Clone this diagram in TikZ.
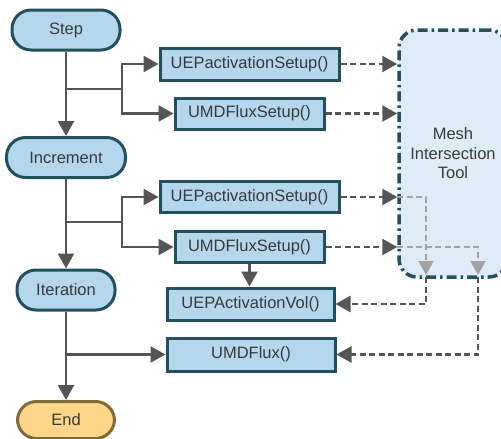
\documentclass[tikz,border=0pt]{standalone}
\usepackage{fontspec}
\setmainfont{Liberation Sans}
\usetikzlibrary{arrows.meta,calc}
\definecolor{boxfill}{HTML}{B4D7EE}
\definecolor{boxdraw}{HTML}{22505E}
\definecolor{meshfill}{HTML}{DFECF7}
\definecolor{endfill}{HTML}{FDD68A}
\definecolor{enddraw}{HTML}{7F6B37}
\definecolor{lineclr}{HTML}{555555}
\definecolor{lightclr}{HTML}{A3A3A3}
\definecolor{txt}{HTML}{3A3A3A}
\tikzset{
  pill/.style={draw=boxdraw, fill=boxfill, line width=3pt, rounded corners=19pt,
    minimum height=40pt, inner sep=0pt, text=txt, font=\fontsize{16.5}{19}\selectfont},
  endpill/.style={pill, draw=enddraw, fill=endfill},
  func/.style={draw=boxdraw, fill=boxfill, line width=3pt, minimum height=31pt,
    inner sep=0pt, text=txt, font=\fontsize{16.5}{19}\selectfont},
  meshbox/.style={draw=boxdraw, fill=meshfill, line width=3.5pt, rounded corners=18pt,
    dash pattern=on 10pt off 4pt on 2.5pt off 4pt, inner sep=0pt, text=txt,
    align=center, font=\fontsize{16.5}{19.5}\selectfont},
  conn/.style={draw=lineclr, line width=2.5pt},
  arr/.style={conn, -{Triangle[length=15pt,width=16pt]}},
  darr/.style={arr, dash pattern=on 6pt off 3.5pt},
  larr/.style={draw=lightclr, line width=2pt, dash pattern=on 6pt off 3.5pt,
    -{Triangle[length=14pt,width=15pt,fill=lightclr]}},
}
\begin{document}
\begin{tikzpicture}[x=1pt,y=-1pt]
\clip (0,0) rectangle (501,439);
\fill[white] (0,0) rectangle (501,439);

% Mesh intersection tool
\node[meshbox, minimum width=108pt, minimum height=247pt] (mesh) at (453,153.5)
  {Mesh\\Intersection\\Tool};

% Flow nodes
\node[pill, minimum width=108pt] (step) at (66,30) {Step};
\node[pill, minimum width=119pt] (incr) at (66,157.5) {Increment};
\node[pill, minimum width=98pt] (iter) at (66,290) {Iteration};
\node[endpill, minimum width=97pt, minimum height=37pt] (end) at (66,420) {End};

% Function boxes
\node[func, minimum width=179pt, minimum height=32pt] (a1) at (249.5,64) {UEPactivationSetup()};
\node[func, minimum width=149pt] (b1) at (249.5,113.5) {UMDFluxSetup()};
\node[func, minimum width=179pt] (a2) at (249.5,197) {UEPactivationSetup()};
\node[func, minimum width=149pt] (b2) at (249.5,247) {UMDFluxSetup()};
\node[func, minimum width=167pt, minimum height=32pt] (vol) at (250.5,304) {UEPActivationVol()};
\node[func, minimum width=168pt, minimum height=33pt] (flux) at (251,354.5) {UMDFlux()};

% Helper coordinates
\coordinate (j1) at (66,89);
\coordinate (f1) at (122,89);
\coordinate (j2) at (66,222);
\coordinate (f2) at (122,222);
\coordinate (c1) at (426,277);
\coordinate (c2) at (478,277);

% Main trunk
\draw[arr] (step.south) -- (incr.north);
\draw[arr] (incr.south) -- (iter.north);
\draw[arr] (iter.south) -- (end.north);

% Branches
\draw[conn] (j1) -- (f1);
\draw[arr] (f1) |- (a1.west);
\draw[arr] (f1) |- (b1.west);
\draw[conn] (j2) -- (f2);
\draw[arr] (f2) |- (a2.west);
\draw[arr] (f2) |- (b2.west);
\draw[arr] (iter.south |- flux.west) -- (flux.west);
\draw[arr] (b2.south) -- (b2.south |- vol.north);

% Dashed to mesh
\draw[darr] (a1.east) -- (a1.east -| mesh.west);
\draw[darr] (b1.east) -- (b1.east -| mesh.west);
\draw[darr] (a2.east) -- (a2.east -| mesh.west);
\draw[darr] (b2.east) -- (b2.east -| mesh.west);

% Light gray inside mesh
\draw[larr] (a2.east -| mesh.west) -| ([yshift=2pt]c1);
\draw[larr] (b2.east -| mesh.west) -| ([yshift=2pt]c2);

% Dashed back
\draw[darr] (c1) |- (vol.east);
\draw[darr] (c2) |- (flux.east);
\end{tikzpicture}
\end{document}
